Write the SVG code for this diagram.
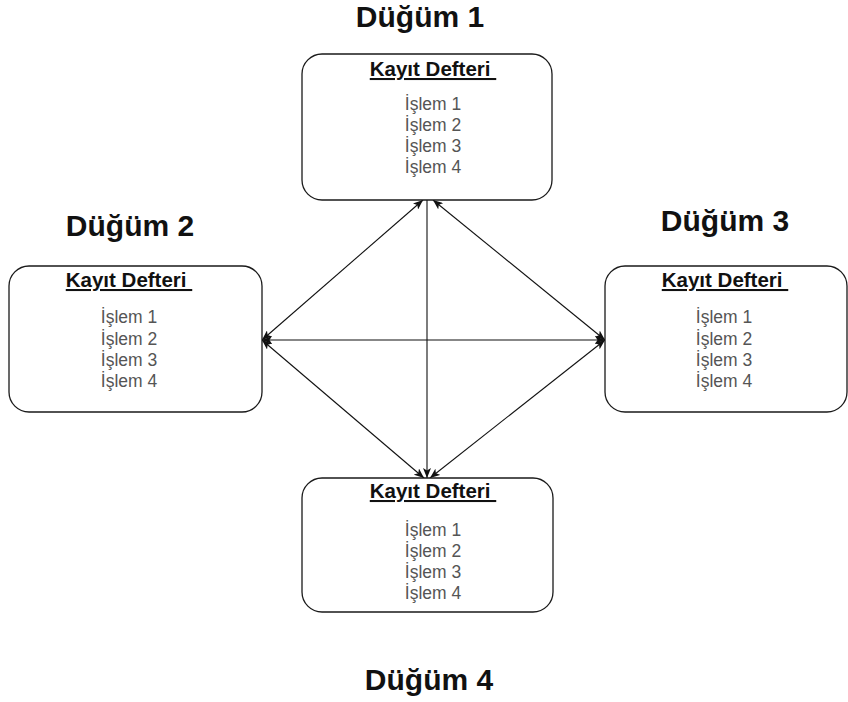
<svg xmlns="http://www.w3.org/2000/svg" width="848" height="702" viewBox="0 0 848 702">
  <style>
    .box { fill: #ffffff; stroke: #1a1a1a; stroke-width: 1.3; }
    .title { font-family: "Liberation Sans", Arial, sans-serif; font-weight: bold; font-size: 30px; fill: #111; text-anchor: middle; }
    .head { font-family: "Liberation Sans", Arial, sans-serif; font-weight: bold; font-size: 20.5px; fill: #111; text-anchor: middle; text-decoration: underline; white-space: pre; }
    .item { font-family: "Liberation Sans", Arial, sans-serif; font-size: 17.5px; fill: #555; text-anchor: middle; }
    .link { stroke: #111; stroke-width: 1.1; fill: none; }
  </style>
  <defs>
    <marker id="arrow" viewBox="0 0 10 8" refX="10" refY="4" markerWidth="10" markerHeight="8" markerUnits="userSpaceOnUse" orient="auto-start-reverse">
      <path d="M0,0 L10,4 L0,8 L2.5,4 z" fill="#111"/>
    </marker>
  </defs>

  <rect width="848" height="702" fill="#ffffff"/>

  <!-- connectors -->
  <g id="connectors">
    <line class="link" x1="262" y1="340" x2="423" y2="200" marker-start="url(#arrow)" marker-end="url(#arrow)"/>
    <line class="link" x1="605" y1="340" x2="433" y2="200" marker-start="url(#arrow)" marker-end="url(#arrow)"/>
    <line class="link" x1="427" y1="200" x2="427" y2="478" marker-end="url(#arrow)"/>
    <line class="link" x1="262" y1="340" x2="605" y2="340" marker-start="url(#arrow)" marker-end="url(#arrow)"/>
    <line class="link" x1="262" y1="340" x2="424" y2="478" marker-start="url(#arrow)" marker-end="url(#arrow)"/>
    <line class="link" x1="605" y1="340" x2="430" y2="478" marker-start="url(#arrow)" marker-end="url(#arrow)"/>
  </g>

  <!-- node 1 -->
  <g id="node1">
    <text class="title" x="420" y="27">Düğüm 1</text>
    <rect class="box" x="302" y="54" width="250" height="146" rx="20"/>
    <text class="head" x="433" y="76">Kayıt Defteri </text>
    <text class="item" x="433" y="110">İşlem 1</text>
    <text class="item" x="433" y="131">İşlem 2</text>
    <text class="item" x="433" y="152">İşlem 3</text>
    <text class="item" x="433" y="173">İşlem 4</text>
  </g>

  <!-- node 2 -->
  <g id="node2">
    <text class="title" x="130" y="236">Düğüm 2</text>
    <rect class="box" x="9" y="266" width="253" height="146" rx="20"/>
    <text class="head" x="129" y="287">Kayıt Defteri </text>
    <text class="item" x="129" y="323">İşlem 1</text>
    <text class="item" x="129" y="345">İşlem 2</text>
    <text class="item" x="129" y="366">İşlem 3</text>
    <text class="item" x="129" y="387">İşlem 4</text>
  </g>

  <!-- node 3 -->
  <g id="node3">
    <text class="title" x="725" y="231">Düğüm 3</text>
    <rect class="box" x="605" y="266" width="242" height="146" rx="20"/>
    <text class="head" x="725" y="287">Kayıt Defteri </text>
    <text class="item" x="724" y="323">İşlem 1</text>
    <text class="item" x="724" y="345">İşlem 2</text>
    <text class="item" x="724" y="366">İşlem 3</text>
    <text class="item" x="724" y="387">İşlem 4</text>
  </g>

  <!-- node 4 -->
  <g id="node4">
    <rect class="box" x="302" y="478" width="251" height="134" rx="20"/>
    <text class="head" x="433" y="498">Kayıt Defteri </text>
    <text class="item" x="433" y="536">İşlem 1</text>
    <text class="item" x="433" y="557">İşlem 2</text>
    <text class="item" x="433" y="578">İşlem 3</text>
    <text class="item" x="433" y="599">İşlem 4</text>
    <text class="title" x="429" y="690">Düğüm 4</text>
  </g>
</svg>
